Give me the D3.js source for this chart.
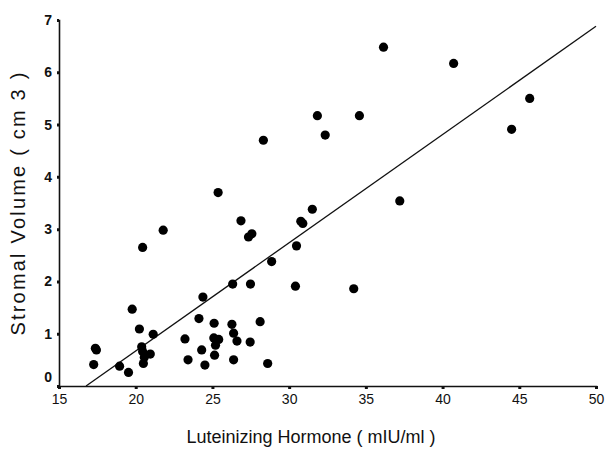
<!DOCTYPE html>
<html>
  <head>
    <meta charset="utf-8">
    <title>Stromal volume vs LH</title>
    <script src="https://cdn.jsdelivr.net/npm/d3@7"></script>
    <style type="text/css">
      body { margin: 0; background: #fff; }
      text { font-family: "Liberation Sans Narrow", "Liberation Sans", Arial, sans-serif; fill: #111; }
    </style>
  </head>
  <body>
    <script>
    // values
    var lh = [17.37, 17.44, 17.26, 18.95, 19.53, 19.77, 20.24, 21.14, 20.39, 20.45,
              20.56, 20.50, 20.95, 20.45, 21.79, 24.38, 24.12, 23.21, 24.30, 23.41,
              24.51, 25.11, 25.09, 25.41, 25.20, 25.14, 26.32, 27.48, 26.27, 26.38,
              26.60, 27.46, 26.38, 28.11, 28.60, 25.37, 26.86, 27.35, 27.57, 28.32,
              28.86, 30.48, 30.76, 30.89, 31.51, 30.41, 31.84, 34.58, 32.35, 36.15,
              40.72, 45.68, 44.50, 37.21, 34.21];
    var volume = [0.72, 0.69, 0.41, 0.38, 0.26, 1.47, 1.09, 0.99, 0.75, 0.66,
                  0.55, 0.43, 0.61, 2.65, 2.98, 1.70, 1.29, 0.90, 0.69, 0.50,
                  0.40, 1.20, 0.92, 0.89, 0.78, 0.59, 1.95, 1.95, 1.18, 1.01,
                  0.86, 0.84, 0.50, 1.23, 0.43, 3.70, 3.16, 2.85, 2.91, 4.70,
                  2.38, 2.68, 3.15, 3.11, 3.38, 1.91, 5.17, 5.17, 4.80, 6.48,
                  6.17, 5.50, 4.91, 3.54, 1.86];
    var xTicks = [15, 20, 25, 30, 35, 40, 45, 50];
    var yTicks = [0, 1, 2, 3, 4, 5, 6, 7];
    // fitted line  y = slope * x + intercept
    var slope = 0.207;
    var intercept = -3.47;

    var width = 606, height = 462;

    var x = d3.scaleLinear().domain([15, 50]).range([59, 596]);
    var y = d3.scaleLinear().domain([0, 7]).range([386, 20]);

    var svg = d3.select("body").append("svg")
        .attr("width", width)
        .attr("height", height);

    // x axis
    var xAxis = svg.append("g")
        .attr("transform", "translate(0," + y(0) + ")")
        .call(d3.axisBottom(x).tickValues(xTicks).tickFormat(d3.format("d"))
          .tickSize(3).tickPadding(5));
    xAxis.select(".domain").attr("stroke", "#111").attr("stroke-width", 1.6);
    xAxis.selectAll(".tick line").attr("stroke", "#111").attr("stroke-width", 3);
    xAxis.selectAll("text").style("font-size", "14px").attr("font-family", null);

    // y axis
    var yAxis = svg.append("g")
        .attr("transform", "translate(" + x(15) + ",0)")
        .call(d3.axisLeft(y).tickValues(yTicks).tickFormat(d3.format("d"))
          .tickSize(2).tickPadding(5));
    yAxis.select(".domain").attr("stroke", "#111").attr("stroke-width", 1.6);
    yAxis.selectAll(".tick line").attr("stroke", "#111").attr("stroke-width", 3);
    yAxis.selectAll("text").style("font-size", "14px").style("font-weight", "bold")
        .attr("font-family", null);
    // the zero label sits a bit above the x axis in the original
    yAxis.selectAll(".tick").filter(function(d) { return d === 0; })
        .select("text").attr("dy", "-0.3em");

    // regression line
    var x0 = -intercept / slope;
    svg.append("line")
        .attr("x1", x(x0)).attr("y1", y(0))
        .attr("x2", x(50)).attr("y2", y(slope * 50 + intercept))
        .attr("stroke", "#111")
        .attr("stroke-width", 1.3);

    // points
    svg.selectAll("circle.pt")
      .data(lh.map(function(d, i) { return [d, volume[i]]; }))
      .enter()
      .append("circle")
        .attr("class", "pt")
        .attr("cx", function(d) { return x(d[0]); })
        .attr("cy", function(d) { return y(d[1]); })
        .attr("r", 4.6)
        .attr("fill", "#000");

    // axis titles
    svg.append("text")
        .attr("x", 311)
        .attr("y", 443)
        .attr("text-anchor", "middle")
        .style("font-size", "18px")
        .text("Luteinizing Hormone ( mIU/ml )");

    svg.append("text")
        .attr("transform", "translate(25,203) rotate(-90)")
        .attr("text-anchor", "middle")
        .style("font-size", "20px")
        .style("letter-spacing", "2.2px")
        .text("Stromal Volume ( cm 3 )");
    </script>
  </body>
</html>
